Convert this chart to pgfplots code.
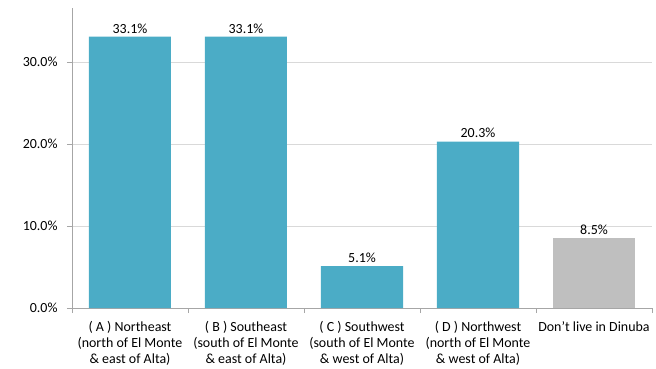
\documentclass[border=0pt]{standalone}
\usepackage{pgfplots}
\pgfplotsset{compat=1.18}
\usepackage{fontspec}
\setmainfont{Carlito}
\definecolor{barblue}{HTML}{4BACC6}
\definecolor{bargray}{HTML}{BFBFBF}
\definecolor{axgray}{HTML}{A6A6A6}
\definecolor{gridgray}{HTML}{D9D9D9}
\begin{document}
\begin{tikzpicture}
\path[use as bounding box] (-72bp,-61bp) rectangle (584bp,308bp);
\begin{axis}[
  at={(0,0)}, anchor=south west,
  scale only axis, width=580bp, height=300bp,
  xmin=-0.5, xmax=4.5, ymin=0, ymax=36.6,
  ybar, bar width=82bp, bar shift=0pt,
  axis lines=left, axis line style={-, axgray, line width=0.8pt},
  ymajorgrids, grid style={gridgray, line width=0.6pt},
  ytick={0,10,20,30},
  yticklabels={0.0\%,10.0\%,20.0\%,30.0\%},
  xtick={0,1,2,3,4},
  xticklabels={{( A ) Northeast\\(north of El Monte\\\& east of Alta)},
               {( B ) Southeast\\(south of El Monte\\\& east of Alta)},
               {( C ) Southwest\\(south of El Monte\\\& west of Alta)},
               {( D ) Northwest\\(north of El Monte\\\& west of Alta)},
               {Don’t live in Dinuba}},
  xticklabel style={align=center, font=\fontsize{14}{16}\selectfont, anchor=north, yshift=-5bp},
  yticklabel style={font=\fontsize{14}{16}\selectfont, xshift=-6bp},
  major x tick style={draw=none},
  minor xtick={-0.5,0.5,1.5,2.5,3.5,4.5},
  minor tick length=5bp,
  minor x tick style={axgray, line width=0.8pt},
  major tick length=5bp,
  major y tick style={axgray, line width=0.8pt},
  tick align=outside,
  nodes near coords={\pgfmathprintnumber[fixed,fixed zerofill,precision=1,assume math mode=true]{\pgfplotspointmeta}\%},
  nodes near coords style={font=\fontsize{14}{16}\selectfont, black},
  clip=false,
]
\addplot[fill=barblue, draw=none] coordinates {(0,33.1) (1,33.1) (2,5.1) (3,20.3)};
\addplot[fill=bargray, draw=none] coordinates {(4,8.5)};
\end{axis}
\end{tikzpicture}
\end{document}
